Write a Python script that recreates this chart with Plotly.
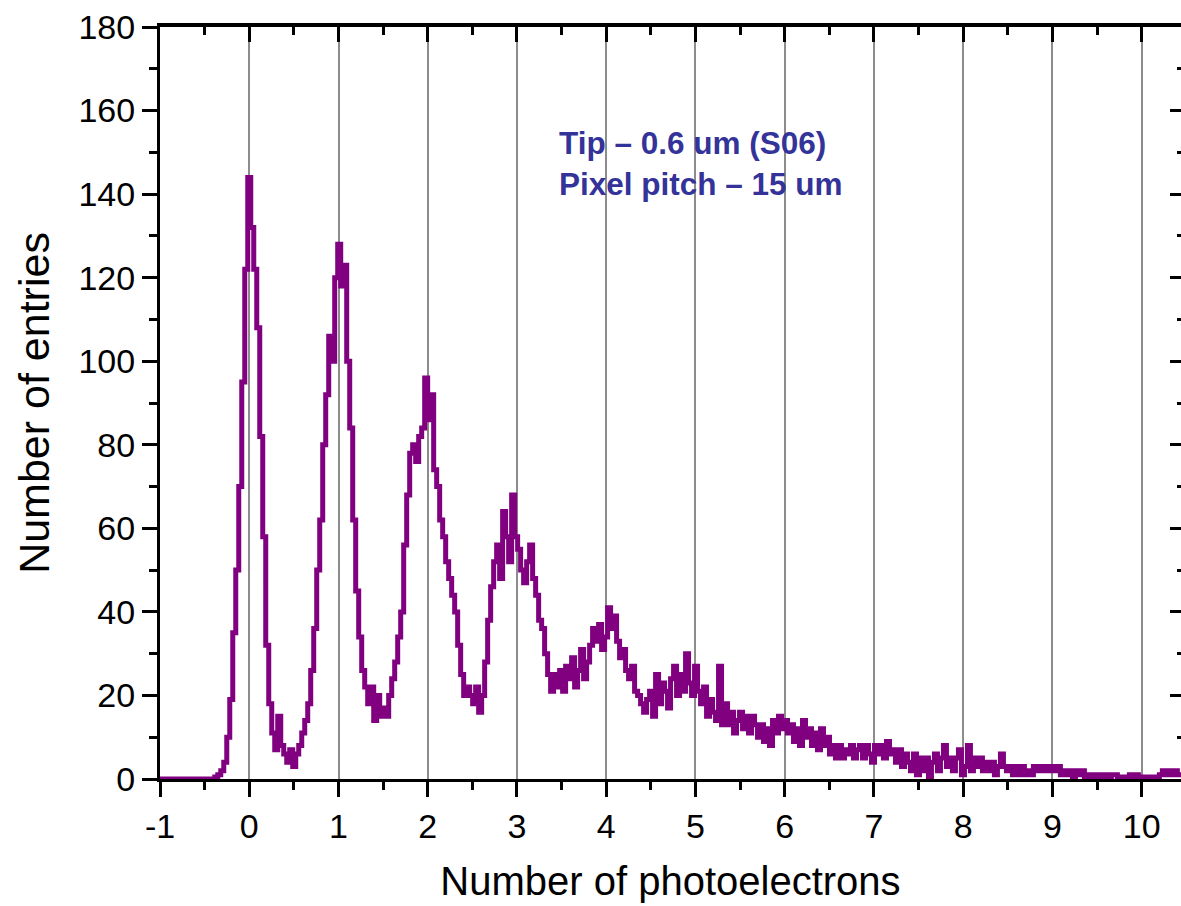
import numpy as np
import plotly.graph_objects as go

# Histogram: bin width (in photoelectrons) and index of first bin (bin centre = index * width)
BIN_WIDTH = 0.0336
FIRST_BIN = -30

counts = [
    # -1.0 .. -0.40
    0, 0, 0, 0, 0, 0, 0, 0, 0, 0, 0, 0, 0, 0, 0, 0, 0, 0, 0,
    # -0.37 .. -0.03
    0.5, 1, 2, 4, 10, 19, 35, 50, 70, 95, 122,
    # 0.0 .. 0.30
    144, 132, 122, 108, 82, 58, 32, 18, 11, 7,
    # 0.34 .. 0.60
    15, 8, 6, 4, 7, 3, 6, 8, 11,
    # 0.64 .. 0.97
    14, 18, 26, 36, 50, 62, 80, 92, 106, 100, 120,
    # 1.0 .. 1.34
    128, 118, 123, 100, 84, 62, 45, 34, 26, 22,
    # 1.34 .. 1.68
    18, 22, 14, 20, 15, 17, 15, 20, 24, 28,
    # 1.68 .. 2.02
    34, 40, 56, 68, 78, 80, 76, 82, 84, 96,
    # 2.02 .. 2.35
    86, 92, 74, 70, 62, 58, 52, 48, 44, 40,
    # 2.35 .. 2.69
    32, 25, 20, 22, 20, 18, 22, 16, 20, 28,
    # 2.69 .. 3.02
    38, 46, 52, 56, 48, 64, 58, 52, 68, 58,
    # 3.02 .. 3.36
    55, 50, 47, 52, 56, 48, 44, 38, 36, 30,
    # 3.36 .. 3.70
    25, 21, 25, 22, 26, 21, 27, 24, 29, 22,
    # 3.70 .. 4.03
    26, 31, 24, 28, 32, 36, 33, 37, 31, 34,
    # 4.03 .. 4.37
    41, 36, 39, 33, 29, 31, 26, 24, 27, 21,
    # 4.37 .. 4.70
    20, 18, 16, 19, 21, 15, 25, 18, 23, 21,
    # 4.70 .. 5.04
    17, 24, 27, 20, 25, 21, 30, 23, 20, 27,
    # 5.04 .. 5.38
    21, 18, 22, 15, 19, 16, 14, 27, 13, 18,
    # 5.38 .. 5.71
    13, 16, 11, 14, 16, 12, 15, 11, 15, 13,
    # 5.71 .. 6.05
    10, 13, 9, 12, 8, 14, 11, 15, 12, 14,
    # 6.05 .. 6.38
    11, 13, 9, 12, 8, 14, 10, 12, 8, 11,
    # 6.38 .. 6.72
    7, 12, 8, 10, 6, 8, 5, 8, 5, 7,
    # 6.72 .. 7.06
    6, 8, 5, 7, 8, 5, 8, 6, 4, 8,
    # 7.06 .. 7.39
    6, 8, 5, 9, 6, 7, 4, 7, 3, 6,
    # 7.39 .. 7.73
    4, 2, 6, 1, 5, 2, 5, 0, 4, 6,
    # 7.73 .. 8.06
    2, 5, 8, 3, 5, 2, 5, 7, 1, 3,
    # 8.06 .. 8.40
    8, 2, 5, 3, 5, 2, 4, 2, 4, 1,
    # 8.40 .. 8.74
    3, 6, 3, 2, 3, 1, 3, 1, 3, 1,
    # 8.74 .. 9.07
    2, 1, 3, 2, 3, 2, 3, 2, 3, 2,
    # 9.07 .. 9.41
    3, 1, 2, 1, 2, 0, 2, 1, 2, 0,
    # 9.41 .. 9.74
    1, 0, 1, 0.5, 1, 0.5, 1, 0, 1, 1,
    # 9.74 .. 10.08
    0, 0.5, 0.5, 0, 1, 0.5, 1, 0.5, 0.5, 0.5,
    # 10.08 .. 10.45
    0.5, 0.5, 0.5, 0.5, 1, 2, 1, 2, 1, 2, 1, 1,
]

x_tick_vals = list(range(-1, 11))
x_tick_text = [str(v) for v in x_tick_vals]
y_tick_vals = list(range(0, 181, 20))

x_centres = (np.arange(len(counts)) + FIRST_BIN) * BIN_WIDTH

FONT = "Liberation Sans, Arial, sans-serif"
PURPLE = "#800080"

fig = go.Figure()
fig.add_trace(go.Scatter(
    x=x_centres, y=counts, mode="lines",
    line=dict(color=PURPLE, width=5, shape="hvh"),
    showlegend=False, hoverinfo="skip",
))
# invisible trace to activate the mirrored axes
fig.add_trace(go.Scatter(x=[None], y=[None], xaxis="x2", yaxis="y2", showlegend=False))

X_RANGE = [-1, 10.44]
Y_RANGE = [0, 180]

fig.update_layout(
    width=1181, height=906,
    margin=dict(l=160, r=0, t=27, b=127),
    paper_bgcolor="white", plot_bgcolor="white",
    font=dict(family=FONT, color="black"),
    xaxis=dict(
        range=X_RANGE, tickmode="array", tickvals=x_tick_vals, ticktext=x_tick_text,
        ticks="outside", ticklen=15, tickwidth=3, tickcolor="black",
        showline=True, linecolor="black", linewidth=3,
        showgrid=True, gridcolor="#8c8c8c", gridwidth=1.5,
        zeroline=False,
        minor=dict(dtick=0.5, tick0=-1, ticks="outside", ticklen=8, tickwidth=3,
                   tickcolor="black", showgrid=False),
        tickfont=dict(size=34, family=FONT, color="black"),
        title=dict(text="Number of photoelectrons", font=dict(size=40, family=FONT), standoff=24),
    ),
    yaxis=dict(
        range=Y_RANGE, tickmode="array", tickvals=y_tick_vals,
        ticks="outside", ticklen=15, tickwidth=3, tickcolor="black",
        showline=True, linecolor="black", linewidth=3,
        showgrid=False, zeroline=False,
        minor=dict(dtick=10, tick0=0, ticks="outside", ticklen=8, tickwidth=3,
                   tickcolor="black", showgrid=False),
        tickfont=dict(size=34, family=FONT, color="black"),
        title=dict(text="Number of entries", font=dict(size=43, family=FONT), standoff=16),
    ),
    xaxis2=dict(
        range=X_RANGE, overlaying="x", side="top", anchor="y",
        tickmode="array", tickvals=x_tick_vals, showticklabels=False,
        ticks="inside", ticklen=15, tickwidth=3, tickcolor="black",
        showline=True, linecolor="black", linewidth=3.5,
        showgrid=False, zeroline=False,
        minor=dict(dtick=0.5, tick0=-1, ticks="inside", ticklen=8, tickwidth=3,
                   tickcolor="black", showgrid=False),
    ),
    yaxis2=dict(
        range=Y_RANGE, overlaying="y", side="right", anchor="x",
        tickmode="array", tickvals=y_tick_vals, showticklabels=False,
        ticks="inside", ticklen=11, tickwidth=3, tickcolor="black",
        showline=False, showgrid=False, zeroline=False,
        minor=dict(dtick=10, tick0=0, ticks="inside", ticklen=4, tickwidth=3,
                   tickcolor="black", showgrid=False),
    ),
    annotations=[dict(
        text="<b>Tip – 0.6 um (S06)<br>Pixel pitch – 15 um</b>",
        xref="paper", yref="paper", x=0.389, y=0.872,
        xanchor="left", yanchor="top", align="left", showarrow=False,
        font=dict(size=31.5, family=FONT, color="#333399"),
    )],
)

fig.write_html("out.html")
